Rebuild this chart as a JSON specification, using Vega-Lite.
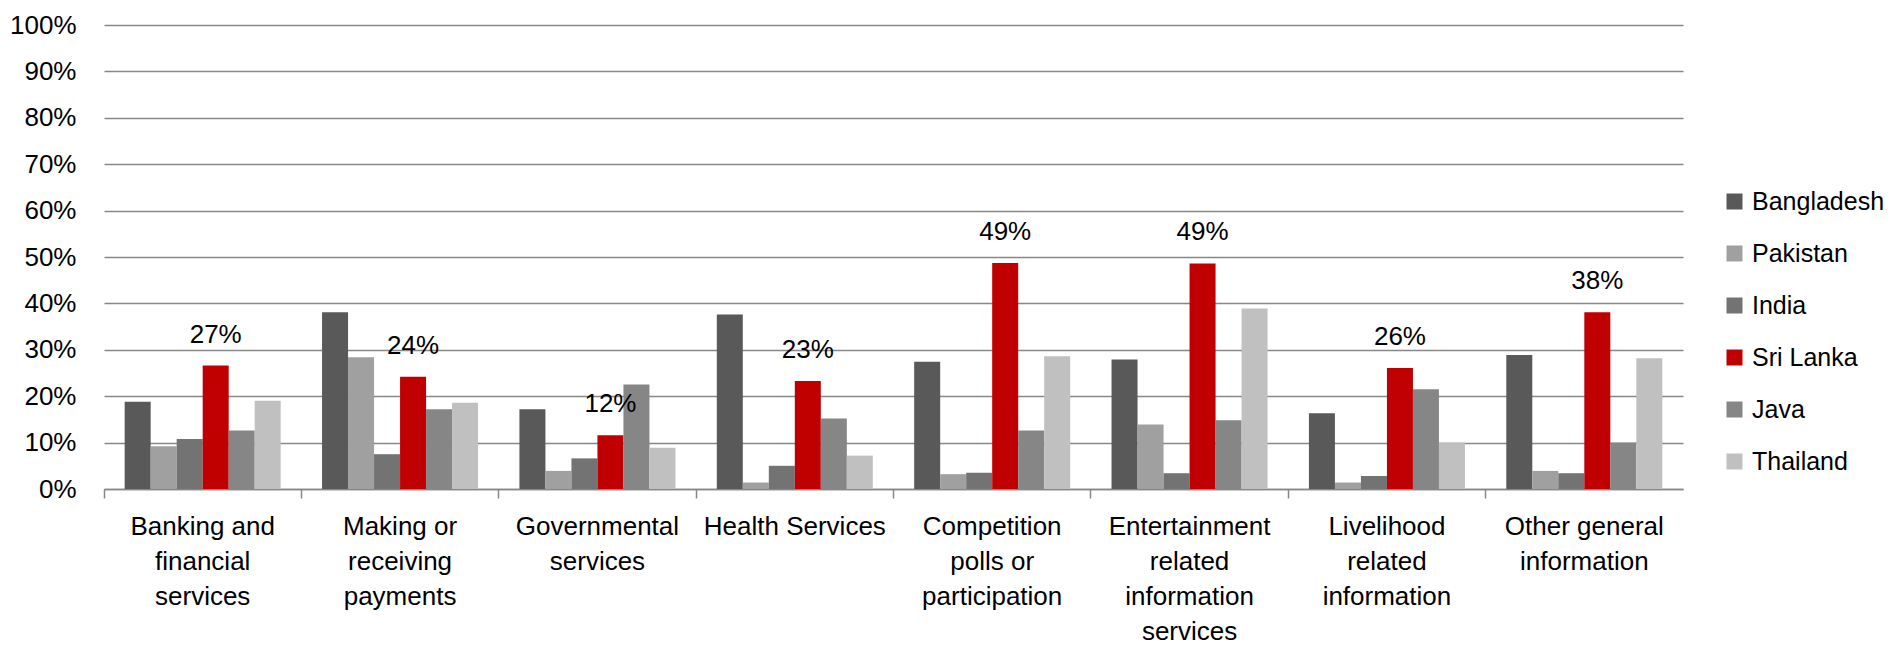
{
  "$schema": "https://vega.github.io/schema/vega-lite/v6.json",
  "width": 1579,
  "height": 464,
  "autosize": {"type": "none"},
  "padding": {"left": 104, "top": 25, "right": 209, "bottom": 157},
  "background": "white",
  "config": {
    "view": {"stroke": null},
    "font": "Liberation Sans",
    "axis": {"labelFont": "Liberation Sans", "labelFontSize": 26, "labelColor": "#000000"},
    "legend": {"labelFont": "Liberation Sans", "labelFontSize": 25, "labelColor": "#000000"}
  },
  "data": {
    "values": [
      {"category": "Banking and|financial|services", "country": "Bangladesh", "value": 0.188},
      {"category": "Banking and|financial|services", "country": "Pakistan", "value": 0.092},
      {"category": "Banking and|financial|services", "country": "India", "value": 0.108},
      {"category": "Banking and|financial|services", "country": "Sri Lanka", "value": 0.266},
      {"category": "Banking and|financial|services", "country": "Java", "value": 0.126},
      {"category": "Banking and|financial|services", "country": "Thailand", "value": 0.190},
      {"category": "Making or|receiving|payments", "country": "Bangladesh", "value": 0.381},
      {"category": "Making or|receiving|payments", "country": "Pakistan", "value": 0.284},
      {"category": "Making or|receiving|payments", "country": "India", "value": 0.075},
      {"category": "Making or|receiving|payments", "country": "Sri Lanka", "value": 0.242},
      {"category": "Making or|receiving|payments", "country": "Java", "value": 0.172},
      {"category": "Making or|receiving|payments", "country": "Thailand", "value": 0.186},
      {"category": "Governmental|services", "country": "Bangladesh", "value": 0.172},
      {"category": "Governmental|services", "country": "Pakistan", "value": 0.039},
      {"category": "Governmental|services", "country": "India", "value": 0.066},
      {"category": "Governmental|services", "country": "Sri Lanka", "value": 0.116},
      {"category": "Governmental|services", "country": "Java", "value": 0.225},
      {"category": "Governmental|services", "country": "Thailand", "value": 0.089},
      {"category": "Health Services", "country": "Bangladesh", "value": 0.376},
      {"category": "Health Services", "country": "Pakistan", "value": 0.014},
      {"category": "Health Services", "country": "India", "value": 0.050},
      {"category": "Health Services", "country": "Sri Lanka", "value": 0.233},
      {"category": "Health Services", "country": "Java", "value": 0.152},
      {"category": "Health Services", "country": "Thailand", "value": 0.072},
      {"category": "Competition|polls or|participation", "country": "Bangladesh", "value": 0.274},
      {"category": "Competition|polls or|participation", "country": "Pakistan", "value": 0.032},
      {"category": "Competition|polls or|participation", "country": "India", "value": 0.035},
      {"category": "Competition|polls or|participation", "country": "Sri Lanka", "value": 0.487},
      {"category": "Competition|polls or|participation", "country": "Java", "value": 0.126},
      {"category": "Competition|polls or|participation", "country": "Thailand", "value": 0.286},
      {"category": "Entertainment|related|information|services", "country": "Bangladesh", "value": 0.279},
      {"category": "Entertainment|related|information|services", "country": "Pakistan", "value": 0.139},
      {"category": "Entertainment|related|information|services", "country": "India", "value": 0.034},
      {"category": "Entertainment|related|information|services", "country": "Sri Lanka", "value": 0.486},
      {"category": "Entertainment|related|information|services", "country": "Java", "value": 0.148},
      {"category": "Entertainment|related|information|services", "country": "Thailand", "value": 0.389},
      {"category": "Livelihood|related|information", "country": "Bangladesh", "value": 0.163},
      {"category": "Livelihood|related|information", "country": "Pakistan", "value": 0.014},
      {"category": "Livelihood|related|information", "country": "India", "value": 0.028},
      {"category": "Livelihood|related|information", "country": "Sri Lanka", "value": 0.261},
      {"category": "Livelihood|related|information", "country": "Java", "value": 0.215},
      {"category": "Livelihood|related|information", "country": "Thailand", "value": 0.100},
      {"category": "Other general|information", "country": "Bangladesh", "value": 0.289},
      {"category": "Other general|information", "country": "Pakistan", "value": 0.039},
      {"category": "Other general|information", "country": "India", "value": 0.034},
      {"category": "Other general|information", "country": "Sri Lanka", "value": 0.381},
      {"category": "Other general|information", "country": "Java", "value": 0.100},
      {"category": "Other general|information", "country": "Thailand", "value": 0.282}
    ]
  },
  "encoding": {
    "x": {
      "field": "category",
      "type": "nominal",
      "sort": null,
      "scale": {"paddingInner": 0, "paddingOuter": 0},
      "axis": {
        "title": null,
        "labelAngle": 0,
        "labelExpr": "split(datum.label, '|')",
        "labelLineHeight": 35,
        "labelPadding": 15,
        "labelBaseline": "top",
        "labelLimit": 0,
        "bandPosition": 0,
        "tickSize": 9,
        "tickColor": "#888888",
        "tickWidth": 1.5,
        "domainColor": "#888888",
        "domainWidth": 1.5,
        "grid": false
      }
    },
    "xOffset": {
      "field": "country",
      "type": "nominal",
      "sort": ["Bangladesh", "Pakistan", "India", "Sri Lanka", "Java", "Thailand"],
      "scale": {"paddingInner": 0, "paddingOuter": 0.795}
    },
    "y": {
      "field": "value",
      "type": "quantitative",
      "scale": {"domain": [0, 1], "nice": false},
      "axis": {
        "title": null,
        "values": [0, 0.1, 0.2, 0.3, 0.4, 0.5, 0.6, 0.7, 0.8, 0.9, 1],
        "format": ".0%",
        "domain": false,
        "ticks": false,
        "tickSize": 0,
        "labelPadding": 28,
        "grid": true,
        "gridColor": "#888888",
        "gridWidth": 1.5
      }
    }
  },
  "layer": [
    {
      "mark": {"type": "bar"},
      "encoding": {
        "color": {
          "field": "country",
          "type": "nominal",
          "scale": {
            "domain": ["Bangladesh", "Pakistan", "India", "Sri Lanka", "Java", "Thailand"],
            "range": ["#595959", "#a0a0a0", "#737373", "#c00000", "#868686", "#c0c0c0"]
          },
          "legend": {
            "title": null,
            "orient": "none",
            "legendX": 1618,
            "legendY": 164,
            "symbolType": "square",
            "symbolSize": 256,
            "symbolStrokeWidth": 0,
            "labelOffset": 5,
            "labelLimit": 0,
            "rowPadding": 26
          }
        }
      }
    },
    {
      "transform": [{"filter": "datum.country === 'Sri Lanka'"}],
      "mark": {"type": "text", "dy": -31, "baseline": "middle", "align": "center", "fontSize": 26, "font": "Liberation Sans", "color": "#000000"},
      "encoding": {
        "text": {"field": "value", "type": "quantitative", "format": ".0%"}
      }
    }
  ]
}
